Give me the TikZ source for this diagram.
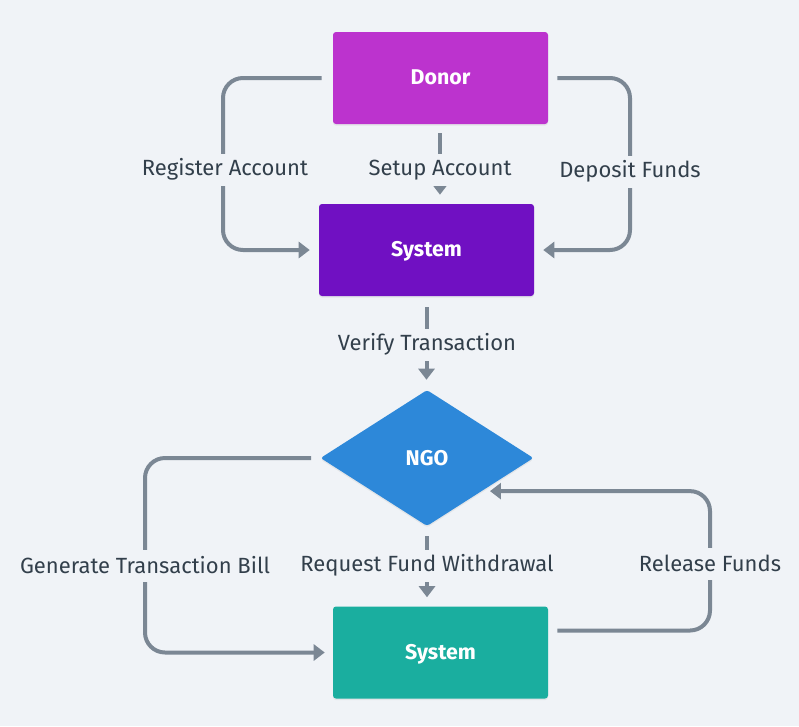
\documentclass[tikz,border=0pt]{standalone}
\usepackage{fontspec}
\setmainfont{Fira Sans}
\usetikzlibrary{shapes.geometric,arrows.meta,calc,shadows}
\definecolor{bg}{HTML}{F0F3F7}
\definecolor{donorc}{HTML}{BC33CE}
\definecolor{sysa}{HTML}{7010C2}
\definecolor{ngoc}{HTML}{2D88D9}
\definecolor{sysb}{HTML}{1AAE9F}
\definecolor{edgec}{HTML}{7B8794}
\definecolor{txt}{HTML}{323F4B}
\begin{document}
\begin{tikzpicture}[x=0.75pt,y=-0.75pt,
  shd/.style={drop shadow={opacity=0.12, shadow xshift=0pt, shadow yshift=-1.2pt}},
  box/.style={rectangle, rounded corners=2.25pt, minimum width=161.25pt, minimum height=69pt, text=white, font=\bfseries\fontsize{16}{18}\selectfont, inner sep=0pt, text depth=1pt, shd},
  conn/.style={draw=edgec, line width=3pt, rounded corners=15pt, -{Triangle[length=8.25pt,width=12pt]}},
  lbl/.style={fill=bg, text=txt, font=\fontsize{16.5}{18}\selectfont, inner xsep=3pt, inner ysep=0pt, minimum height=24pt}]
\fill[bg] (0,0) rectangle (799,726);
\useasboundingbox (0,0) rectangle (799,726);

\node[box, fill=donorc] (donor) at (440.5,78) {Donor};
\node[box, fill=sysa] (sys1) at (426.5,250) {System};
\node[diamond, fill=ngoc, minimum width=159.75pt, minimum height=102pt, inner sep=0pt, rounded corners=2pt, text=white, font=\bfseries\fontsize{16}{18}\selectfont, shd] (ngo) at (427,458) {NGO};
\node[box, fill=sysb] (sys2) at (440.5,652.5) {System};

\coordinate (lx) at (223,0);
\coordinate (rx) at (630,0);
\coordinate (gx) at (145,0);
\coordinate (fx) at (710,0);
\coordinate (nr) at ($(ngo.east)!0.485!(ngo.south)$);
\coordinate (s2r) at ([yshift=16.5pt]sys2.east);

% Register Account
\draw[conn, shorten <=8.25pt, shorten >=6.75pt] (donor.west) -| (lx |- sys1.west) -- (sys1.west);
% Deposit Funds
\draw[conn, shorten <=6.75pt, shorten >=6.75pt] (donor.east) -| (rx |- sys1.east) -- (sys1.east);
% Setup Account
\draw[conn, shorten <=6.75pt, shorten >=6.75pt] ([xshift=-0.4pt]donor.south) -- ([xshift=-0.4pt]donor.south |- sys1.north);
% Verify Transaction
\draw[conn, shorten <=8.25pt, shorten >=7.5pt] (sys1.south) -- (sys1.south |- ngo.north);
% Generate Transaction Bill
\draw[conn, shorten <=6.75pt, shorten >=6pt] (ngo.west) -| (gx |- sys2.west) -- (sys2.west);
% Request Fund Withdrawal
\draw[conn, shorten <=7.5pt, shorten >=6.75pt] (ngo.south) -- (ngo.south |- sys2.north);
% Release Funds
\draw[conn, shorten <=6.75pt, shorten >=6pt] (s2r) -| (fx |- nr) -- (nr);

\node[lbl] (l1) at (225,169.5) {Register Account};
\node[lbl] (l2) at (440,170) {Setup Account};
\node[lbl] (l3) at (630,171.5) {Deposit Funds};
\node[lbl] (l4) at (427,344.5) {Verify Transaction};
\node[lbl] (l5) at (145,565.5) {Generate Transaction Bill};
\node[lbl] (l6) at (427,565.5) {Request Fund Withdrawal};
\node[lbl] (l7) at (710,563.5) {Release Funds};
\end{tikzpicture}
\end{document}
